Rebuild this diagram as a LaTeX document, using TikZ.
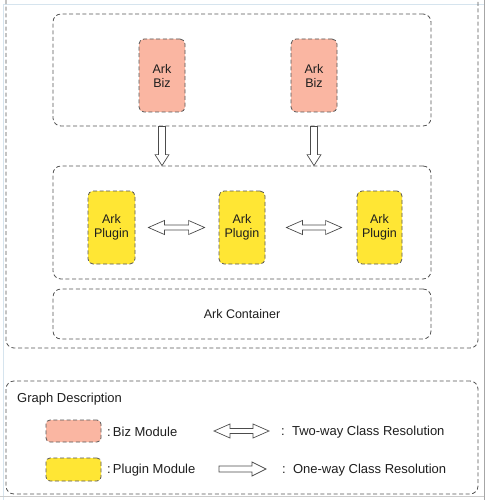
\documentclass[tikz,border=0pt]{standalone}
\usepackage{fontspec}
\setmainfont{Liberation Sans}
\usetikzlibrary{calc}
\definecolor{bizfill}{RGB}{250,182,162}
\definecolor{plugfill}{RGB}{255,230,52}
\definecolor{dashcol}{RGB}{85,85,85}
\definecolor{framecol}{RGB}{214,228,238}
\definecolor{txt}{RGB}{30,30,30}
\tikzset{
  dbox/.style={draw=dashcol, line width=0.8pt, dash pattern=on 4pt off 2.6pt, rounded corners=8pt, inner sep=0pt},
  bizbox/.style={dbox, fill=bizfill, rounded corners=5pt, minimum width=46pt, minimum height=73pt, align=center, text=txt, font=\fontsize{12.5}{14}\selectfont},
  plugbox/.style={dbox, fill=plugfill, rounded corners=5pt, minimum width=46pt, minimum height=73pt, align=center, text=txt, font=\fontsize{12.5}{14}\selectfont},
  group/.style={dbox, minimum width=378pt},
  lbl/.style={anchor=west, inner sep=0pt, text=txt, font=\fontsize{13}{15}\selectfont},
  hollow/.style={draw=dashcol!90!black, line width=0.7pt, fill=white, line join=miter},
}
\newcommand\fatdown[2]{%
  \draw[hollow] let \p1=(#1), \p2=(#2) in
    (\x1-3.5pt,\y1) -- (\x1-3.5pt,\y2+11pt) -- (\x1-7pt,\y2+11pt) -- (\x1,\y2)
    -- (\x1+7pt,\y2+11pt) -- (\x1+3.5pt,\y2+11pt) -- (\x1+3.5pt,\y1) -- cycle;}
\newcommand\fatboth[2]{%
  \draw[hollow] let \p1=(#1), \p2=(#2) in
    (\x1,\y1) -- (\x1+16pt,\y1+7pt) -- (\x1+16pt,\y1+2.5pt) -- (\x2-16pt,\y1+2.5pt)
    -- (\x2-16pt,\y1+7pt) -- (\x2,\y1) -- (\x2-16pt,\y1-7pt) -- (\x2-16pt,\y1-2.5pt)
    -- (\x1+16pt,\y1-2.5pt) -- (\x1+16pt,\y1-7pt) -- cycle;}
\newcommand\fatright[2]{%
  \draw[hollow] let \p1=(#1), \p2=(#2) in
    (\x1,\y1+3pt) -- (\x2-14pt,\y1+3pt) -- (\x2-14pt,\y1+7pt) -- (\x2,\y1)
    -- (\x2-14pt,\y1-7pt) -- (\x2-14pt,\y1-3pt) -- (\x1,\y1-3pt) -- cycle;}
\begin{document}
\begin{tikzpicture}[x=1pt,y=-1pt]
\useasboundingbox (0,0) rectangle (489,500);
\clip (0,0) rectangle (489,500);
% screenshot frame
\draw[framecol, line width=0.8pt] (3,500) -- (3,4) -- (484,4);
\draw[black!35, line width=1pt] (484,0) -- (484,500);
\draw[black!20, line width=1pt] (0,496) -- (484,496);
% outer container
\node[dbox, minimum width=472pt, minimum height=356pt] (outer) at (242,170) {};
% top group with biz modules
\node[group, minimum height=112pt] (topg) at (242,70) {};
\node[bizbox] (biz1) at (162,75.5) {Ark\\Biz};
\node[bizbox] (biz2) at (314,75.5) {Ark\\Biz};
% middle group with plugins
\node[group, minimum height=113pt] (midg) at (242,222.5) {};
\node[plugbox, minimum width=47pt] (p1) at (111.5,227.5) {Ark\\Plugin};
\node[plugbox] (p2) at (242,227.5) {Ark\\Plugin};
\node[plugbox, minimum width=45pt] (p3) at (379.5,227.5) {Ark\\Plugin};
% container
\node[group, minimum height=50pt, text=txt, font=\fontsize{12.5}{14}\selectfont] (cont) at (242,314) {Ark Container};
% one-way arrows biz -> plugin group
\coordinate (a1s) at (biz1.south |- topg.south);
\coordinate (a1e) at (biz1.south |- midg.north);
\coordinate (a2s) at (biz2.south |- topg.south);
\coordinate (a2e) at (biz2.south |- midg.north);
\fatdown{a1s}{a1e}
\fatdown{a2s}{a2e}
% two-way arrows between plugins
\coordinate (b1s) at ($(p1.east)+(13,0)$);
\coordinate (b1e) at ($(p2.west)+(-14,0)$);
\coordinate (b2s) at ($(p2.east)+(21,0)$);
\coordinate (b2e) at ($(p3.west)+(-15,0)$);
\fatboth{b1s}{b1e}
\fatboth{b2s}{b2e}
% legend
\node[dbox, minimum width=472pt, minimum height=113pt] (legend) at (242,437.5) {};
\node[lbl] (ltitle) at (17,399) {Graph Description};
\node[dbox, fill=bizfill, rounded corners=4pt, minimum width=55pt, minimum height=22pt] (lbiz) at (73.5,431) {};
\node[dbox, fill=plugfill, rounded corners=4pt, minimum width=55pt, minimum height=23pt] (lplug) at (73.5,469.5) {};
\node[lbl] (lbiztxt) at (107,432) {:\,Biz Module};
\node[lbl] (lplugtxt) at (107,470) {:\,Plugin Module};
\coordinate (lt1) at (214,431);
\coordinate (lt2) at (269,431);
\coordinate (lo1) at (219,469);
\coordinate (lo2) at (266,469);
\fatboth{lt1}{lt2}
\fatright{lo1}{lo2}
\node[lbl] (ltwo) at (281,432) {:\ \ Two-way Class Resolution};
\node[lbl] (lone) at (282,470) {:\ \ One-way Class Resolution};
\end{tikzpicture}
\end{document}
